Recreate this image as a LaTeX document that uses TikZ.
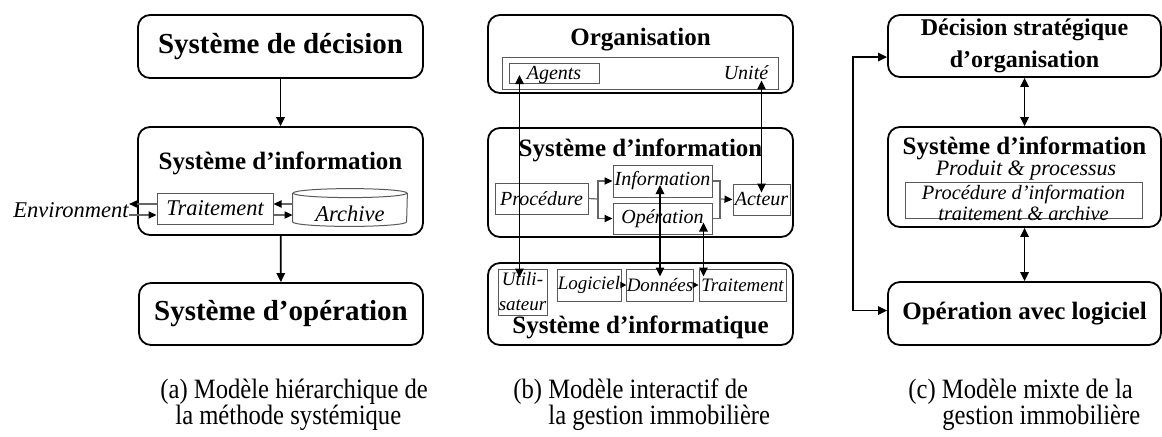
\documentclass[tikz,border=0pt]{standalone}
\usepackage{fontspec}
\setmainfont{Liberation Serif}
\newfontfamily\capfont[FakeStretch=0.88]{Liberation Serif}
\usetikzlibrary{positioning,calc,arrows.meta}
\tikzset{
	box/.style={draw, line width=0.9pt, rounded corners=6pt, inner sep=0pt},
	sub/.style={draw=black!65, line width=0.5pt, inner sep=0pt},
	bigttl/.style={font=\fontsize{14.5}{17}\selectfont\bfseries},
	ttl/.style={font=\fontsize{12.5}{15}\selectfont\bfseries},
	ita/.style={font=\fontsize{11.25}{13}\selectfont\itshape},
	itb/.style={font=\fontsize{10}{12}\selectfont\itshape},
	capt/.style={font=\capfont\fontsize{14}{16}\selectfont, anchor=base west, inner sep=0pt},
	arr/.style={-{Triangle[length=4.5pt,width=4.2pt]}, line width=0.85pt},
	dbl/.style={{Triangle[length=4.5pt,width=4.2pt]}-{Triangle[length=4.5pt,width=4.2pt]}, line width=0.85pt},
	link/.style={-{Triangle[length=4pt,width=3.6pt,color=black]}, draw=black!60, line width=0.6pt},
	tiny/.style={-{Triangle[length=3pt,width=3.2pt]}, line width=0.5pt},
}

\begin{document}
\begin{tikzpicture}[x=0.5pt,y=-0.5pt]
	\useasboundingbox (0,0) rectangle (1162,436);

	% (a) hierarchique
	\begin{scope}
		\node[box, bigttl, minimum width=142.5pt, minimum height=31.5pt] (decA) at (280.5,46.5) {Système de décision};
		\node[box, minimum width=142.5pt, minimum height=54pt] (infoA) at (280.5,181) {};
		\node[ttl] (infoAt) at (280.5,163) {Système d’information};
		\node[sub, ita, minimum width=58pt, minimum height=15.5pt] (trait) at (215,208.5) {Traitement};
		\node[inner sep=0pt, minimum width=57pt, minimum height=18.5pt] (arch) at (350,207.5) {};
		\node[ita] (archt) at (350,214) {Archive};
		\node[ita, inner sep=0pt] (env) at (71,210) {Environment};
		\node[box, bigttl, minimum width=142pt, minimum height=31pt] (opA) at (281,314) {Système d’opération};

		\draw[sub] ($(arch.north)+(0,4.5)$) ellipse [x radius=28.5pt, y radius=2.25pt];
		\draw[sub] ($(arch.north west)+(0,4.5)$) -- ($(arch.south west)+(0,-4.5)$)
			arc[start angle=180, end angle=360, x radius=28.5pt, y radius=2.25pt] -- ($(arch.north east)+(0,4.5)$);

		\draw[arr] (decA) -- (infoA);
		\draw[arr] (infoA) -- (opA);
		\draw[link] (trait.west) ++(0,-4.5) coordinate (p1) -- (p1 -| env.east);
		\draw[link] (env.east) ++(0,5) coordinate (p2) -- (p2 -| trait.west);
		\path (trait.east) ++(0,-4.5) coordinate (p3);
		\draw[link] (p3 -| arch.west) -- (p3);
		\draw[link] (trait.east) ++(0,6.5) coordinate (p4) -- (p4 -| arch.west);
	\end{scope}

	% (b) interactif
	\begin{scope}
		\node[box, minimum width=152.5pt, minimum height=39pt] (org) at (640.5,54) {};
		\node[ttl] (orgt) at (640.5,40) {Organisation};
		\node[sub, minimum width=138pt, minimum height=16pt] (orgin) at (640,73) {};
		\node[sub, itb, minimum width=45pt, minimum height=10pt, text depth=0.5pt] (agents) at (554,73) {Agents};
		\node[itb, inner sep=0pt] (unite) at (746,73) {Unité};

		\node[box, minimum width=152.5pt, minimum height=54.5pt] (infoB) at (640.5,182.5) {};
		\node[ttl] (infoBt) at (640.5,150) {Système d’information};
		\node[sub, itb, minimum width=46.5pt, minimum height=15.5pt] (proc) at (541.5,198.5) {Procédure};
		\node[sub, itb, minimum width=49.5pt, minimum height=16pt] (infoN) at (662.5,181) {Information};
		\node[sub, itb, minimum width=49.5pt, minimum height=15.5pt] (oper) at (662.5,218.5) {Opération};
		\node[sub, itb, minimum width=28.5pt, minimum height=15.5pt] (acteur) at (761.5,199.5) {Acteur};
		\coordinate (jL) at (598,199);
		\coordinate (jR) at (720,199);

		\node[box, minimum width=152.5pt, minimum height=41pt] (infq) at (640.5,304) {};
		\node[ttl] (infqt) at (640.5,327) {Système d’informatique};
		\node[sub, align=center, minimum width=24.5pt, minimum height=23pt,
			font=\fontsize{9.5}{12.5}\selectfont\itshape] (util) at (522.5,292) {Utili-\\sateur};
		\node[sub, font=\fontsize{9.5}{12}\selectfont\itshape, minimum width=32pt, minimum height=16pt] (logi) at (589,285) {Logiciel};
		\node[sub, font=\fontsize{9.5}{12}\selectfont\itshape, minimum width=33pt, minimum height=16pt] (donn) at (660,285) {Données};
		\node[sub, font=\fontsize{9.5}{12}\selectfont\itshape, minimum width=43.5pt, minimum height=16pt] (trt) at (742.5,285) {Traitement};

		\draw[draw=black!60, line width=0.6pt] (proc.east) -- (jL);
		\draw[link] (jL) |- (infoN.west);
		\draw[link] (jL) |- (oper.west);
		\draw[draw=black!60, line width=0.6pt] (infoN.east) -| (jR) |- (oper.east);
		\draw[link] (jR) -- (acteur.west);
		\draw[tiny] (logi) -- (donn);
		\draw[tiny] (donn) -- (trt);

		\draw[dbl] ($(agents.west)+(11,2)$) -- ($(util.north west)+(22,9)$);
		\draw[dbl] (acteur.north |- unite.south) -- ($(acteur.north)+(0,9)$);
		\draw[dbl] ($(donn.north |- infoN.center)+(0,4)$) -- ($(donn.north)+(0,8)$);
		\draw[dbl] ($(trt.north west |- oper.center)+(5,4)$) -- ($(trt.north west)+(5,8)$);
	\end{scope}

	% (c) mixte
	\begin{scope}
		\node[box, align=center, font=\fontsize{12}{16}\selectfont\bfseries, minimum width=136.5pt, minimum height=31pt] (decC) at (1024.5,46) {Décision stratégique\\d’organisation};
		\node[box, minimum width=136.5pt, minimum height=50pt] (infoC) at (1024.5,177) {};
		\node[ttl] (infoCt) at (1024.5,148) {Système d’information};
		\node[font=\fontsize{11}{13}\selectfont\itshape] (prod) at (1026,170) {Produit \& processus};
		\node[sub, minimum width=118.5pt, minimum height=18pt] (procC) at (1023.5,200) {};
		\node[align=center, inner sep=0pt, font=\fontsize{10.2}{8}\selectfont\itshape] (procCt) at (1023.5,203) {Procédure d’information\\traitement \& archive};
		\node[box, ttl, minimum width=136.5pt, minimum height=31.5pt] (opC) at (1024.5,313.5) {Opération avec logiciel};
		\coordinate (fb) at (853,57);

		\draw[dbl] (decC) -- (infoC);
		\draw[dbl] (infoC) -- (opC);
		\draw[dbl] ($(decC.west)+(0,11)$) -- (fb) |- ($(opC.west)+(0,-3)$);
	\end{scope}

	% legendes
	\node[capt] (capA1) at (160,398) {(a) Modèle hiérarchique de};
	\node[capt] (capA2) at (175,424) {la méthode systémique};
	\node[capt] (capB1) at (513,398) {(b) Modèle interactif de};
	\node[capt] (capB2) at (548,424) {la gestion immobilière};
	\node[capt] (capC1) at (908,398) {(c) Modèle mixte de la};
	\node[capt] (capC2) at (942,424) {gestion immobilière};
\end{tikzpicture}
\end{document}
